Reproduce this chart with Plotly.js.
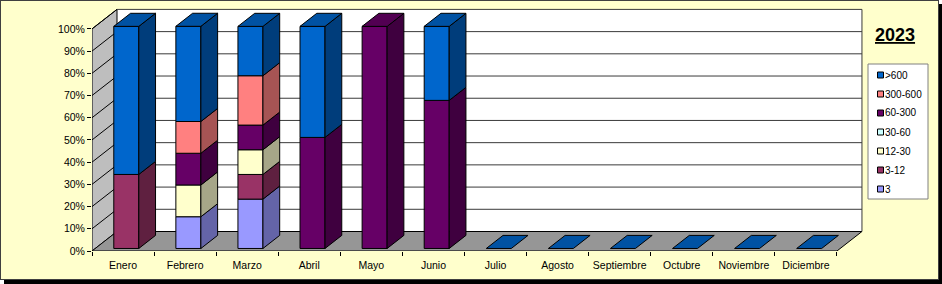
<!DOCTYPE html>
<html>
<head>
<meta charset="utf-8">
<script src="https://cdn.plot.ly/plotly-3.0.1.min.js"></script>
<style>
  html, body { margin:0; padding:0; background:#ffffff; }
  #frame { position:absolute; left:0; top:0; width:937px; height:278px; background:#FFFFCC;
           border:1px solid #404040; box-shadow:4px 4px 0 0 #000; }
  #chart { position:absolute; left:0; top:0; width:942px; height:284px; }
</style>
</head>
<body>
<div id="frame"></div>
<div id="chart"></div>
<script>
// ---------- data ----------
const months = ['Enero','Febrero','Marzo','Abril','Mayo','Junio','Julio','Agosto','Septiembre','Octubre','Noviembre','Diciembre'];
const seriesNames = ['3','3-12','12-30','30-60','60-300','300-600','>600'];
const v3       = [0, 14.29, 22.22, 0, 0, 0, 0, 0, 0, 0, 0, 0];
const v3_12    = [33.33, 0, 11.11, 0, 0, 0, 0, 0, 0, 0, 0, 0];
const v12_30   = [0, 14.29, 11.11, 0, 0, 0, 0, 0, 0, 0, 0, 0];
const v30_60   = [0, 0, 0, 0, 0, 0, 0, 0, 0, 0, 0, 0];
const v60_300  = [0, 14.29, 11.11, 50, 100, 66.67, 0, 0, 0, 0, 0, 0];
const v300_600 = [0, 14.29, 22.22, 0, 0, 0, 0, 0, 0, 0, 0, 0];
const vOver600 = [66.67, 42.86, 22.22, 50, 0, 33.33, 0, 0, 0, 0, 0, 0];
const yTickVals = [0,10,20,30,40,50,60,70,80,90,100];
const yTickText = ['0%','10%','20%','30%','40%','50%','60%','70%','80%','90%','100%'];
const titleText = '2023';

// ---------- styles ----------
const frontColors = ['#9999FF','#993366','#FFFFCC','#CCFFFF','#660066','#FF8080','#0066CC'];
const sideColors  = ['#6464A8','#5F2040','#A6A688','#86A6A6','#3F003F','#A65454','#003D7B'];
const topColors   = ['#7A7ACC','#7A2952','#CCCCA3','#A3CCCC','#520052','#CC6666','#0052A3'];
const FONT = 'Liberation Sans, Arial, sans-serif';

// ---------- geometry (pixels -> axis units) ----------
const W = 942, H = 284;
const L = 92, R = 78, T = 7, B = 33;
const plotW = W - L - R, plotH = H - T - B;
const PXU = 62.08, PYU = 2.221;           // px per category, px per percent
const XMIN = -0.5, XMAX = XMIN + plotW / PXU;
const YMAX = plotH / PYU;
const DXu = 25 / PXU, DYu = 19.5 / PYU;   // wall depth
const BW = 25 / PXU;                       // bar front width
const F0 = 0.13, BD = 0.67;                // bar front depth, bar depth (fractions of wall depth)
const nCat = months.length;
const idx = months.map((m, i) => i);

const series = [v3, v3_12, v12_30, v30_60, v60_300, v300_600, vOver600];

// cumulative bases
const bases = [];
let run = months.map(() => 0);
series.forEach(vals => { bases.push(run.slice()); run = run.map((r, i) => r + vals[i]); });
const totals = run;

const traces = [];
const off = F0 * DXu - BW / 2;
const by0 = F0 * DYu;
const sdx = BD * DXu, sdy = BD * DYu;

// front faces
series.forEach((vals, s) => {
  traces.push({
    type: 'bar', x: idx, y: vals.map(v => v > 0 ? v : null),
    base: bases[s].map(b => b + by0), offset: off, width: BW,
    marker: { color: frontColors[s], line: { color: '#000', width: 1 } },
    hoverinfo: 'skip', showlegend: false, name: seriesNames[s]
  });
});

// side faces
series.forEach((vals, s) => {
  const xs = [], ys = [];
  vals.forEach((v, i) => {
    if (v <= 0) return;
    const x1 = i + off + BW, b = bases[s][i] + by0;
    xs.push(x1, x1 + sdx, x1 + sdx, x1, x1, null);
    ys.push(b, b + sdy, b + v + sdy, b + v, b, null);
  });
  if (xs.length) traces.push({
    type: 'scatter', mode: 'lines', x: xs, y: ys, fill: 'toself', fillcolor: sideColors[s],
    line: { color: '#000', width: 1 }, hoverinfo: 'skip', showlegend: false
  });
});

// top faces
const topByColor = {};
idx.forEach(i => {
  let top = -1;
  series.forEach((vals, s) => { if (vals[i] > 0) top = s; });
  const c = top >= 0 ? topColors[top] : topColors[6];
  const x0 = i + off, x1 = x0 + BW, y = totals[i] + by0;
  if (!topByColor[c]) topByColor[c] = { xs: [], ys: [] };
  topByColor[c].xs.push(x0, x1, x1 + sdx, x0 + sdx, x0, null);
  topByColor[c].ys.push(y, y, y + sdy, y + sdy, y, null);
});
Object.keys(topByColor).forEach(c => {
  traces.push({
    type: 'scatter', mode: 'lines', x: topByColor[c].xs, y: topByColor[c].ys, fill: 'toself', fillcolor: c,
    line: { color: '#000', width: 1 }, hoverinfo: 'skip', showlegend: false
  });
});

// ---------- walls, floor, gridlines ----------
const xL = XMIN, xRf = XMIN + nCat;  // front plane left/right
const shapes = [];
shapes.push({ type: 'rect', xref: 'x', yref: 'y', layer: 'below', x0: xL + DXu, x1: xRf + DXu, y0: DYu, y1: 100 + DYu,
  fillcolor: '#FFFFFF', line: { width: 0 } });
shapes.push({ type: 'path', xref: 'x', yref: 'y', layer: 'below',
  path: `M${xL},0 L${xL + DXu},${DYu} L${xL + DXu},${100 + DYu} L${xL},100 Z`,
  fillcolor: '#BEBEBE', line: { color: '#000', width: 1 } });
shapes.push({ type: 'path', xref: 'x', yref: 'y', layer: 'below',
  path: `M${xL},0 L${xRf},0 L${xRf + DXu},${DYu} L${xL + DXu},${DYu} Z`,
  fillcolor: '#969696', line: { color: '#000', width: 1 } });
yTickVals.forEach(v => {
  if (v === 0) return;
  shapes.push({ type: 'line', xref: 'x', yref: 'y', layer: 'below', x0: xL + DXu, x1: xRf + DXu, y0: v + DYu, y1: v + DYu,
    line: { color: '#3a3a3a', width: 1 } });
  shapes.push({ type: 'line', xref: 'x', yref: 'y', layer: 'below', x0: xL, x1: xL + DXu, y0: v, y1: v + DYu,
    line: { color: '#000', width: 1 } });
});
shapes.push({ type: 'line', xref: 'x', yref: 'y', layer: 'below', x0: xRf + DXu, x1: xRf + DXu, y0: DYu, y1: 100 + DYu,
  line: { color: '#3a3a3a', width: 1 } });

// ---------- legend (custom) ----------
const px2x = px => (px - L) / plotW;
const px2y = py => 1 - (py - T) / plotH;
const annotations = [];
annotations.push({ xref: 'paper', yref: 'paper', x: px2x(895), y: px2y(35), xanchor: 'center', yanchor: 'middle',
  text: '<b><u>' + titleText + '</u></b>', showarrow: false, font: { family: FONT, size: 18, color: '#000' } });
shapes.push({ type: 'rect', xref: 'paper', yref: 'paper', x0: px2x(868), x1: px2x(928), y0: px2y(64), y1: px2y(199),
  fillcolor: '#FFFFFF', line: { color: '#808080', width: 1 } });
const legendOrder = seriesNames.map((n, s) => s).reverse();
legendOrder.forEach((s, k) => {
  const cy = 75 + k * 19;
  shapes.push({ type: 'rect', xref: 'paper', yref: 'paper', x0: px2x(877.5), x1: px2x(883.5), y0: px2y(cy - 3), y1: px2y(cy + 3),
    fillcolor: frontColors[s], line: { color: '#000', width: 1 } });
  annotations.push({ xref: 'paper', yref: 'paper', x: px2x(883), y: px2y(cy), xanchor: 'left', yanchor: 'middle',
    text: seriesNames[s], showarrow: false, font: { family: FONT, size: 10, color: '#000' } });
});

const layout = {
  width: W, height: H,
  margin: { l: L, r: R, t: T, b: B, pad: 0 },
  paper_bgcolor: 'rgba(0,0,0,0)', plot_bgcolor: 'rgba(0,0,0,0)',
  barmode: 'overlay', showlegend: false,
  xaxis: { range: [XMIN, XMAX], showgrid: false, zeroline: false, showline: false,
    tickmode: 'array', tickvals: idx, ticktext: months, ticks: '', ticklabelstandoff: 6,
    tickfont: { family: FONT, size: 10.5, color: '#000' },
    minor: { tickmode: 'array', tickvals: idx.concat([nCat]).map(i => i - 0.5), ticks: 'outside', ticklen: 4, tickcolor: '#000', tickwidth: 1, showgrid: false },
    fixedrange: true },
  yaxis: { range: [0, YMAX], showgrid: false, zeroline: false, showline: false,
    tickmode: 'array', tickvals: yTickVals, ticktext: yTickText, ticks: 'outside', ticklen: 4, tickcolor: '#000',
    tickfont: { family: FONT, size: 10.5, color: '#000' }, fixedrange: true },
  shapes: shapes, annotations: annotations
};

Plotly.newPlot('chart', traces, layout, { staticPlot: true, displayModeBar: false });
</script>
</body>
</html>
